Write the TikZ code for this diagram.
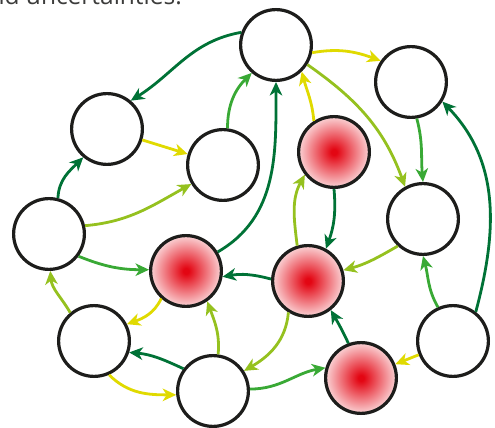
\documentclass[tikz,border=0pt]{standalone}
\usepackage{fontspec}
\setmainfont{Open Sans}
\usetikzlibrary{arrows.meta}

\definecolor{dgreen}{RGB}{0,114,54}
\definecolor{mgreen}{RGB}{57,169,53}
\definecolor{ygreen}{RGB}{149,193,31}
\definecolor{yellowc}{RGB}{224,218,0}
\definecolor{ringc}{RGB}{29,29,27}
\definecolor{glowred}{RGB}{227,6,19}
\definecolor{txtgray}{RGB}{60,60,59}

% red glow fading to white just inside the rim
\pgfdeclareradialshading{redglow}{\pgfpoint{0bp}{0bp}}{%
  color(0bp)=(glowred); color(2bp)=(glowred); color(30bp)=(white); color(50bp)=(white)}

\tikzset{
  state/.style={circle, draw=ringc, line width=3.2pt, fill=white, minimum size=70.8pt, inner sep=0pt},
  hot/.style={state, shading=redglow},
  link/.style={line width=2.8pt, -{Stealth[length=13.5pt,width=12.5pt,inset=4pt]}},
  dg/.style={link, draw=dgreen, color=dgreen},
  mg/.style={link, draw=mgreen, color=mgreen},
  yg/.style={link, draw=ygreen, color=ygreen},
  yl/.style={link, draw=yellowc, color=yellowc},
}

\begin{document}
\begin{tikzpicture}[x=1pt,y=1pt]
\useasboundingbox (0,0) rectangle (495,428);
\clip (0,0) rectangle (495,428);

\node[anchor=base east, font=\fontsize{24.5}{29}\selectfont, text=txtgray, inner sep=0pt] (cap) at (182,423.5) {nd uncertainties.};

% states
\node[state] (A) at (276,383) {};
\node[state] (B) at (411,346) {};
\node[state] (C) at (107,299) {};
\node[state] (D) at (223,263) {};
\node[hot]   (E) at (334,276) {};
\node[state] (F) at (49,194) {};
\node[state] (G) at (423,209) {};
\node[hot]   (H) at (186,157) {};
\node[hot]   (I) at (308,147) {};
\node[state] (J) at (94,87) {};
\node[state] (K) at (213,37) {};
\node[hot]   (L) at (361,50) {};
\node[state] (M) at (453,87) {};

% transitions
\draw[dg] (A.160) to[out=190,in=32] (C.50);
\draw[mg] (D.83) to[out=90,in=225] (A.229);
\draw[yl] (C) -- (D);
\draw[dg] (F.76) to[out=88,in=225] (C.230);
\draw[yg] (F.13) to[out=5,in=209] (D.211);
\draw[mg] (F.-37) to[out=-22,in=180] (H.178);
\draw[dg] (H.31) to[out=30,in=-90] (A.-90);
\draw[yl] (E.123) to[out=95,in=-75] (A.-46);
\draw[yl] (A.-12) to[out=10,in=160] (B.145);
\draw[yg] (A.-32) to[out=-35,in=110] (G.119);
\draw[mg] (B.-81) to[out=-75,in=95] (G.90);
\draw[dg] (M.52) to[out=75,in=-46] (B.-32);
\draw[dg] (E.-90) to[out=-85,in=70] (I.61);
\draw[yg] (I.107) to[out=97,in=241] (E.218);
\draw[yg] (G.227) to[out=210,in=15] (I.17);
\draw[dg] (I.177) to[out=165,in=10] (H.-9);
\draw[yl] (H.228) to[out=245,in=20] (J.27);
\draw[yg] (J.130) to[out=120,in=-85] (F.-88);
\draw[yg] (K.82) to[out=85,in=-70] (H.-55);
\draw[dg] (K.143) to[out=155,in=-5] (J.-18);
\draw[yl] (J.-66) to[out=-45,in=180] (K.186);
\draw[yg] (I.238) to[out=265,in=30] (K.33);
\draw[mg] (K.3) to[out=0,in=190] (L.164);
\draw[dg] (L.110) to[out=115,in=-60] (I.-52);
\draw[mg] (M.114) to[out=120,in=-75] (G.-90);
\draw[yl] (M) -- (L);
\end{tikzpicture}
\end{document}
